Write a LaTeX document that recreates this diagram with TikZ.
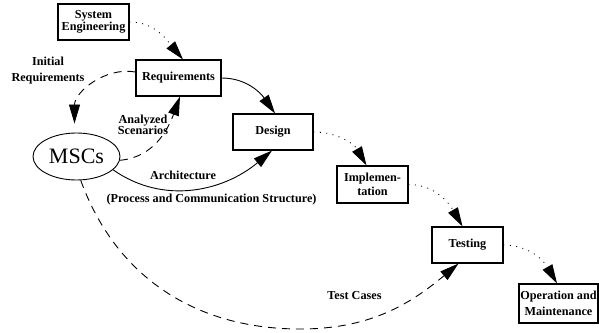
\documentclass[tikz,border=0pt]{standalone}
\usepackage{fontspec}
\setmainfont{Liberation Serif}
\usetikzlibrary{arrows.meta,shapes.geometric,calc}
\newcommand\lblfont{\fontsize{12.2}{13.5}\selectfont\bfseries}
\begin{document}
\begin{tikzpicture}[x=1pt,y=1pt,
  phase/.style={draw,line width=1.1pt,rectangle,inner sep=0pt,align=center,font=\lblfont},
  note/.style={inner sep=0pt,align=center,font=\lblfont},
  tip/.style={-{Triangle[length=19pt,width=11pt]}},
  dotline/.style={tip,line width=0.9pt,dash pattern=on 0.9pt off 5.5pt},
  dashline/.style={tip,line width=0.9pt,dash pattern=on 8pt off 6pt},
  solidline/.style={tip,line width=0.9pt}]
\fill[white] (0,0) rectangle (599,332);
\useasboundingbox (0,0) rectangle (599,332);

% development phases
\node[phase,minimum width=71pt,minimum height=36pt] (se) at (93.5,310) {System\\[-1pt]Engineering};
\node[phase,minimum width=85pt,minimum height=36pt] (req) at (178.5,254) {Requirements};
\node[phase,minimum width=80pt,minimum height=36pt] (des) at (273,200) {Design};
\node[phase,minimum width=71pt,minimum height=37pt] (imp) at (372.5,147.5) {Implemen-\\[1pt]tation};
\node[phase,minimum width=71pt,minimum height=36pt] (tst) at (467.5,87) {Testing};
\node[phase,minimum width=79pt,minimum height=39pt] (op) at (558.5,28.5) {Operation and\\[2pt]Maintenance};

% message sequence charts
\node[draw,ellipse,line width=0.9pt,inner sep=0pt,minimum width=87pt,minimum height=47pt,
      font=\fontsize{22}{24}\selectfont] (msc) at (76.5,175.5) {MSCs};

% phase sequence
\draw[dotline] (se.east) to[out=0,in=130] ($(req.north)+(4.5,0)$);
\draw[solidline] (req.east) to[out=0,in=125] ($(des.north)+(2,0)$);
\draw[dotline] (des.east) to[out=0,in=120] ($(imp.north)+(-6,0)$);
\draw[dotline] (imp.east) to[out=0,in=120] ($(tst.north)+(-5,0)$);
\draw[dotline] (tst.east) to[out=0,in=120] ($(op.north)+(-1.5,0)$);

% uses of the MSCs
\draw[dashline] ($(req.west)+(0,6)$) to[out=170,in=90] ($(msc.north)+(-2,9)$);
\draw[dashline] (msc.-5) to[out=5,in=-110] ($(req.south)+(1.5,0)$);
\draw[solidline] (msc.-20) to[out=-35,in=-140] ($(des.south)+(-1,0)$);
\coordinate (tclow) at (300,3);
\draw[dashline] (msc.-80) to[out=-70,in=180] (tclow) to[out=0,in=-140] ($(tst.south)+(-9,0)$);

% edge labels
\node[note] (lini) at (48,261.5) {Initial\\[2pt]Requirements};
\node[note] (lana) at (143,207) {Analyzed\\[-2pt]Scenarios};
\node[note] (larc) at (183,157) {Architecture};
\node[note] (lpcs) at (211.5,132) {(Process and Communication Structure)};
\node[note] (ltc) at (354.5,36) {Test Cases};
\end{tikzpicture}
\end{document}
